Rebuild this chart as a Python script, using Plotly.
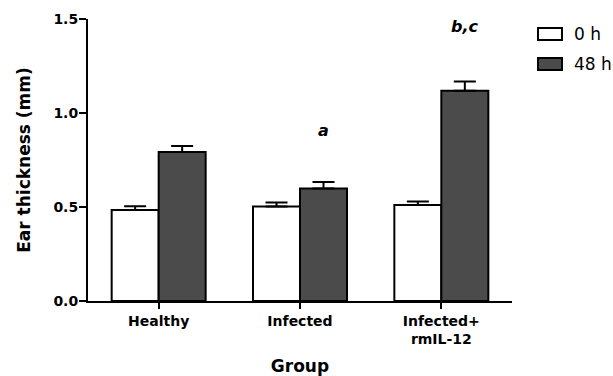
import plotly.graph_objects as go

groups = ["Healthy", "Infected", "Infected+<br>rmIL-12"]
series_names = ["0 h", "48 h"]
vals_0h = [0.484, 0.502, 0.510]
err_0h = [0.020, 0.022, 0.019]
vals_48h = [0.792, 0.598, 1.118]
err_48h = [0.033, 0.035, 0.050]
sig_labels = ["", "<i>a</i>", "<i>b,c</i>"]
sig_y = [None, 0.905, 1.46]

fills = ["#ffffff", "#4b4b4b"]
FONT = "DejaVu Sans"

fig = go.Figure()
for name, vals, errs, fill in [(series_names[0], vals_0h, err_0h, fills[0]),
                               (series_names[1], vals_48h, err_48h, fills[1])]:
    fig.add_trace(go.Bar(
        x=groups, y=vals, name=name, showlegend=False,
        marker=dict(color=fill, line=dict(color="black", width=2)),
        error_y=dict(type="data", array=errs, arrayminus=[0]*len(errs),
                     symmetric=False, color="black", thickness=2, width=11),
    ))

for g, lab, yy in zip(groups, sig_labels, sig_y):
    if lab:
        fig.add_annotation(x=g, y=yy, xref="x", yref="y", text=lab, showarrow=False,
                           xshift=23.5, font=dict(family=FONT, size=16, color="black", weight="bold"))

# legend drawn manually
leg_y = [34, 64]
for name, fill, yc in zip(series_names, fills, leg_y):
    fig.add_shape(type="rect", xref="paper", yref="paper",
                  x0=(538 - 88) / 424, x1=(562 - 88) / 424,
                  y0=(301 - (yc + 6)) / 282, y1=(301 - (yc - 6)) / 282,
                  fillcolor=fill, line=dict(color="black", width=2))
    fig.add_annotation(xref="paper", yref="paper", x=(572 - 88) / 424, y=(301 - yc) / 282,
                       text=name, showarrow=False, xanchor="left", yanchor="middle",
                       font=dict(family=FONT, size=17, color="black"))

fig.update_layout(
    width=613, height=376,
    margin=dict(l=88, r=101, t=19, b=75),
    paper_bgcolor="white", plot_bgcolor="white",
    barmode="group", bargap=0.335, bargroupgap=0,
    font=dict(family=FONT, color="black"),
    xaxis=dict(range=[-0.5, 2.5], showline=True, linecolor="black", linewidth=2,
               ticks="outside", ticklen=6, tickwidth=2, tickcolor="black",
               automargin=False,
               tickfont=dict(family=FONT, size=14, weight="bold"),
               title=dict(text="Group", font=dict(family=FONT, size=17, weight="bold"), standoff=25),
               showgrid=False, zeroline=False),
    yaxis=dict(range=[0, 1.5], dtick=0.5, tickformat=".1f", showline=True, linecolor="black",
               linewidth=2, ticks="outside", ticklen=7, tickwidth=2, tickcolor="black",
               ticklabelstandoff=-2, automargin=False,
               tickfont=dict(family=FONT, size=14, weight="bold"),
               title=dict(text="Ear thickness (mm)", font=dict(family=FONT, size=17, weight="bold"), standoff=18),
               showgrid=False, zeroline=False),
)

fig.write_html("out.html")
